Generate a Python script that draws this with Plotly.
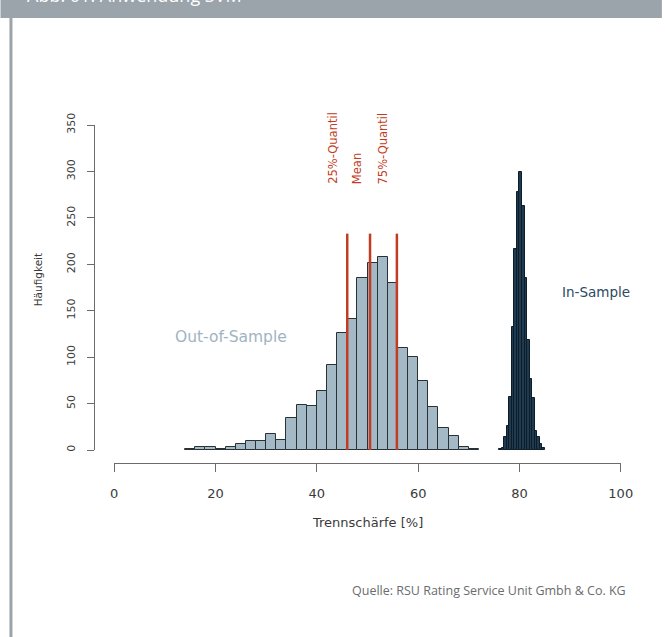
import plotly.graph_objects as go

# Canvas and plot-region geometry (pixels)
W, H = 665, 637
ML, MR, MT, MB = 94, 21, 112, 174
PW, PH = W - ML - MR, H - MT - MB

X_RANGE = [-4, 104]
Y_RANGE = [-14, 364]

# Out-of-sample discriminatory power: histogram with 2 %-wide bins from 14 %
out_start, out_bin = 14, 2
out_counts = [1, 3, 3, 1, 3, 7, 10, 10, 17, 11,
              35, 48, 47, 64, 92, 126, 141, 185, 201, 208,
              180, 110, 100, 74, 46, 24, 15, 3, 1]

# In-sample discriminatory power: histogram with 0.5 %-wide bins from 76 %
in_start, in_bin = 76, 0.5
in_counts = [1, 2, 14, 26, 57, 133, 216, 278, 299, 263,
             185, 118, 77, 56, 20, 14, 6, 2]

# Reference lines of the out-of-sample distribution
quantile_names = ["25%-Quantil", "Mean", "75%-Quantil"]
quantile_values = [46.0, 50.5, 55.8]
quantile_top = 233

x_ticks = [0, 20, 40, 60, 80, 100]
y_ticks = [0, 50, 100, 150, 200, 250, 300, 350]

title_text = "Abb. 01: Anwendung SVM"
x_title = "Trennschärfe [%]"
y_title = "Häufigkeit"
source_text = "Quelle: RSU Rating Service Unit Gmbh & Co. KG"

FONT = "DejaVu Sans"
GREY_FRAME = "#9ca4ab"
RED = "#c33b22"
CLEAR = "rgba(0,0,0,0)"


def px_x(p):
    return (p - ML) / PW


def px_y(p):
    return (H - MB - p) / PH


out_centers = [out_start + out_bin * (i + 0.5) for i in range(len(out_counts))]
in_centers = [in_start + in_bin * (i + 0.5) for i in range(len(in_counts))]

fig = go.Figure()

fig.add_trace(go.Bar(
    x=out_centers, y=out_counts, width=out_bin,
    marker=dict(color="#a3b9c6", line=dict(color="#2b3035", width=1)),
    showlegend=False, hoverinfo="skip",
))
fig.add_trace(go.Bar(
    x=in_centers, y=in_counts, width=in_bin,
    marker=dict(color="#1e3b51", line=dict(color="#0e1c27", width=1)),
    showlegend=False, hoverinfo="skip",
))

# Quantile / mean markers
qx, qy = [], []
for q in quantile_values:
    qx += [q, q, None]
    qy += [0, quantile_top, None]
fig.add_trace(go.Scatter(
    x=qx, y=qy, mode="lines",
    line=dict(color=RED, width=2.5),
    showlegend=False, hoverinfo="skip",
))

# Carrier trace for the R-style axes that only span the tick range
fig.add_trace(go.Scatter(
    x=[None], y=[None], xaxis="x2", yaxis="y2",
    showlegend=False, hoverinfo="skip",
))

annotations = []
for name, q in zip(quantile_names, quantile_values):
    annotations.append(dict(
        x=q - 2.7, y=284, xref="x", yref="y", text=name, showarrow=False,
        textangle=-90, xanchor="center", yanchor="bottom",
        font=dict(family=FONT, size=11.5, color=RED),
    ))

annotations += [
    dict(x=23.0, y=122, xref="x", yref="y", text="Out-of-Sample",
         showarrow=False, xanchor="center", yanchor="middle",
         font=dict(family=FONT, size=15.5, color="#9fb4c2")),
    dict(x=88.0, y=170, xref="x", yref="y", text="In-Sample",
         showarrow=False, xanchor="left", yanchor="middle",
         font=dict(family=FONT, size=13.5, color="#2b4a64")),
    dict(x=px_x(369), y=px_y(522), xref="paper", yref="paper", text=x_title,
         showarrow=False, xanchor="center", yanchor="middle",
         font=dict(family=FONT, size=13, color="#3a3a3a")),
    dict(x=px_x(38), y=px_y(280), xref="paper", yref="paper", text=y_title,
         showarrow=False, textangle=-90, xanchor="center", yanchor="middle",
         font=dict(family=FONT, size=10.5, color="#3a3a3a")),
    dict(x=px_x(631), y=px_y(590), xref="paper", yref="paper", text=source_text,
         showarrow=False, xanchor="right", yanchor="middle",
         font=dict(family="Open Sans, sans-serif", size=12.5, color="#6a6c6e")),
    dict(x=px_x(25), y=px_y(9), xref="paper", yref="paper", text=title_text,
         showarrow=False, xanchor="left", yanchor="bottom",
         font=dict(family="Open Sans, sans-serif", size=18, color="white")),
]

shapes = [
    # header band
    dict(type="rect", xref="paper", yref="paper",
         x0=px_x(0), x1=px_x(W), y0=px_y(0), y1=px_y(18),
         fillcolor=GREY_FRAME, line=dict(width=0), layer="below"),
    # left frame rule
    dict(type="line", xref="paper", yref="paper",
         x0=px_x(10.5), x1=px_x(10.5), y0=px_y(18), y1=px_y(H),
         line=dict(color=GREY_FRAME, width=3)),
]

span_x = X_RANGE[1] - X_RANGE[0]
span_y = Y_RANGE[1] - Y_RANGE[0]

fig.update_layout(
    width=W, height=H,
    margin=dict(l=ML, r=MR, t=MT, b=MB, pad=0),
    paper_bgcolor="white", plot_bgcolor=CLEAR,
    bargap=0, barmode="overlay",
    xaxis=dict(range=X_RANGE, visible=False, fixedrange=True),
    yaxis=dict(range=Y_RANGE, visible=False, fixedrange=True),
    xaxis2=dict(
        range=[x_ticks[0], x_ticks[-1]],
        domain=[(x_ticks[0] - X_RANGE[0]) / span_x, (x_ticks[-1] - X_RANGE[0]) / span_x],
        anchor="free", position=0,
        showline=True, linecolor="#6b6b6b", linewidth=1,
        ticks="outside", ticklen=8, tickcolor="#6b6b6b", tickwidth=1,
        tickvals=x_ticks, ticktext=[str(v) for v in x_ticks],
        ticklabelstandoff=10,
        tickfont=dict(family=FONT, size=13, color="#3a3a3a"),
        showgrid=False, zeroline=False, fixedrange=True,
    ),
    yaxis2=dict(
        range=[y_ticks[0], y_ticks[-1]],
        domain=[(y_ticks[0] - Y_RANGE[0]) / span_y, (y_ticks[-1] - Y_RANGE[0]) / span_y],
        anchor="free", position=0,
        showline=True, linecolor="#6b6b6b", linewidth=1,
        ticks="outside", ticklen=7, tickcolor="#6b6b6b", tickwidth=1,
        tickvals=y_ticks, ticktext=[str(v) for v in y_ticks],
        tickangle=-90, ticklabelstandoff=8,
        tickfont=dict(family=FONT, size=11, color="#3a3a3a"),
        showgrid=False, zeroline=False, fixedrange=True,
    ),
    annotations=annotations,
    shapes=shapes,
)

fig.write_html("out.html")
